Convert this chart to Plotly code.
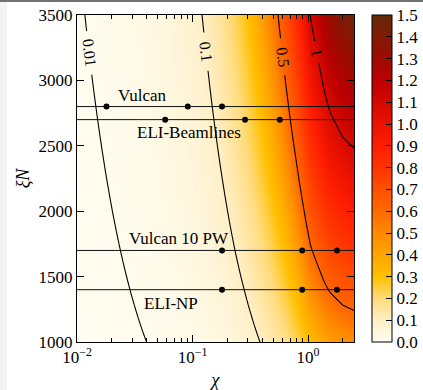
import numpy as np
import plotly.graph_objects as go

# ---- data ----
# profile g(chi): level = scale * xiN * g(chi)
chi_nodes = [0.005, 0.0117, 0.04, 0.121, 0.233, 0.384, 0.55, 0.8, 1.05, 1.4, 1.55, 2.0, 2.6]
g_nodes = [0.0049, 0.01143, 0.04, 0.1143, 0.235, 0.40, 0.571, 0.85, 1.15, 1.38, 1.45, 1.56, 1.62]
field_scale = 2.5e-4
# colour fill value seen at a given line level
fill_at_level_in = [0.0, 0.1, 0.28, 0.5, 0.82, 1.4, 2.0]
fill_at_level_out = [0.0, 0.1, 0.31, 0.62, 0.92, 1.45, 1.9]

contour_levels = [0.01, 0.1, 0.5, 1.0]
contour_label_text = ["0.01", "0.1", "0.5", "1"]
contour_label_xiN = [3210, 3220, 3180, 3215]     # where each inline label sits
contour_label_gap = [165, 142, 140, 85]          # half-height of the gap in the line
contour_label_angle = [83, 82, 83, 79]

facility_names = ["Vulcan", "ELI-Beamlines", "Vulcan 10 PW", "ELI-NP"]
facility_xiN = [2800, 2700, 1700, 1400]
facility_chi = [
    [0.018, 0.091, 0.18],
    [0.058, 0.285, 0.57],
    [0.18, 0.89, 1.78],
    [0.18, 0.89, 1.78],
]
label_chi = [0.0366, 0.093, 0.076, 0.065]
label_xiN = [2888, 2598, 1795, 1298]

x_major = [0.01, 0.1, 1.0]
x_major_text = ["10<sup>−2</sup>", "10<sup>−1</sup>", "10<sup>0</sup>"]
x_minor = [0.02, 0.03, 0.04, 0.05, 0.06, 0.07, 0.08, 0.09,
           0.2, 0.3, 0.4, 0.5, 0.6, 0.7, 0.8, 0.9, 2.0]
y_ticks = [1000, 1500, 2000, 2500, 3000, 3500]
cbar_ticks = [0.0, 0.1, 0.2, 0.3, 0.4, 0.5, 0.6, 0.7, 0.8, 0.9, 1.0, 1.1, 1.2, 1.3, 1.4, 1.5]

colors = [
    [0.0, "#fffdf2"], [0.0667, "#ffefc6"], [0.1333, "#ffdb7a"], [0.2, "#ffc000"],
    [0.2667, "#ffa500"], [0.3333, "#ff8a00"], [0.4, "#ff6a00"], [0.4667, "#ff5000"],
    [0.5333, "#ff3400"], [0.6, "#ff1e00"], [0.6667, "#ea1200"], [0.7333, "#d40800"],
    [0.8, "#bb0000"], [0.8667, "#9e0a00"], [0.9333, "#801a04"], [1.0, "#632a08"],
]

FONT = "Liberation Serif"

# ---- grid ----
chi = np.logspace(-2.02, 0.41, 420)
xiN = np.linspace(990, 3510, 505)
log_g_nodes = np.log10(g_nodes)
log_chi_nodes = np.log10(chi_nodes)
g = 10 ** np.interp(np.log10(chi), log_chi_nodes, log_g_nodes)
Z = field_scale * xiN[:, None] * g[None, :]
Zfill = np.interp(Z, fill_at_level_in, fill_at_level_out)

fig = go.Figure()
fig.add_trace(go.Heatmap(
    x=chi, y=xiN, z=Zfill, zmin=0, zmax=1.5, zsmooth=False, colorscale=colors,
    colorbar=dict(
        x=1.065, xanchor="left", y=0.5, yanchor="middle", len=1.0, lenmode="fraction",
        thickness=20, outlinecolor="black", outlinewidth=1, xpad=0, ypad=0,
        tickmode="array", tickvals=cbar_ticks,
        tickformat=".1f", ticks="inside", ticklen=6, tickcolor="black",
        tickfont=dict(family=FONT, size=17, color="black"),
    ),
    hoverinfo="skip",
))

for lev, txt, ly, gap, ang in zip(contour_levels, contour_label_text, contour_label_xiN,
                                  contour_label_gap, contour_label_angle):
    for rows in (xiN <= ly - gap, xiN >= ly + gap):
        fig.add_trace(go.Contour(
            x=chi, y=xiN[rows], z=Z[rows], autocontour=False, showscale=False,
            contours=dict(start=lev, end=lev, size=1, coloring="none", showlabels=False),
            line=dict(color="black", width=1.1),
            hoverinfo="skip",
        ))
    # chi where the line crosses the label height
    g_target = lev / (field_scale * ly)
    lx = 10 ** np.interp(np.log10(g_target), log_g_nodes, log_chi_nodes)
    fig.add_annotation(x=np.log10(lx), y=ly, text=txt, showarrow=False, textangle=ang,
                       font=dict(family=FONT, size=16, color="black"))

for name, yv, xs in zip(facility_names, facility_xiN, facility_chi):
    fig.add_shape(type="line", xref="x domain", x0=0, x1=1, yref="y", y0=yv, y1=yv,
                  line=dict(color="#111111", width=1))
    fig.add_trace(go.Scatter(x=xs, y=[yv] * len(xs), mode="markers",
                             marker=dict(color="black", size=6), showlegend=False,
                             hoverinfo="skip"))

for name, lx, ly in zip(facility_names, label_chi, label_xiN):
    fig.add_annotation(x=np.log10(lx), y=ly, text=name, showarrow=False,
                       font=dict(family=FONT, size=17, color="black"))

# page frame details (light strip on the left, dark line on top)
fig.add_shape(type="rect", xref="paper", yref="paper", x0=-0.278, x1=-0.253,
              y0=-0.147, y1=1.046, fillcolor="#f1f4f5", line=dict(width=0), layer="below")
fig.add_shape(type="line", xref="paper", yref="paper", x0=-0.278, x1=1.25,
              y0=1.043, y1=1.043, line=dict(color="#444444", width=1.5))

fig.update_xaxes(
    type="log", range=[-2, np.log10(2.5)],
    tickmode="array", tickvals=x_major, ticktext=x_major_text,
    ticks="inside", ticklen=7, tickcolor="black", tickwidth=1,
    minor=dict(tickmode="array", tickvals=x_minor, ticks="inside", ticklen=4,
               tickcolor="black", tickwidth=1),
    showline=True, linecolor="black", linewidth=1, mirror="ticks",
    showgrid=False, zeroline=False,
    tickfont=dict(family=FONT, size=17, color="black"),
    title=dict(text="<i>χ</i>", font=dict(family=FONT, size=18, color="black"), standoff=6),
)
fig.update_yaxes(
    range=[1000, 3500], tickmode="array", tickvals=y_ticks,
    ticks="inside", ticklen=7, tickcolor="black", tickwidth=1,
    showline=True, linecolor="black", linewidth=1, mirror="ticks",
    showgrid=False, zeroline=False,
    tickfont=dict(family=FONT, size=17, color="black"),
    title=dict(text="<i>ξN</i>", font=dict(family=FONT, size=18, color="black"), standoff=4),
)

fig.update_layout(
    width=423, height=390,
    margin=dict(l=77, r=69, t=15, b=48, autoexpand=False),
    font=dict(family=FONT, color="black"),
    paper_bgcolor="white", plot_bgcolor="white",
    showlegend=False,
)
fig.write_html("out.html", config={"displayModeBar": False, "staticPlot": True},
               post_script="document.body.style.margin='0';document.body.style.overflow='hidden';")
